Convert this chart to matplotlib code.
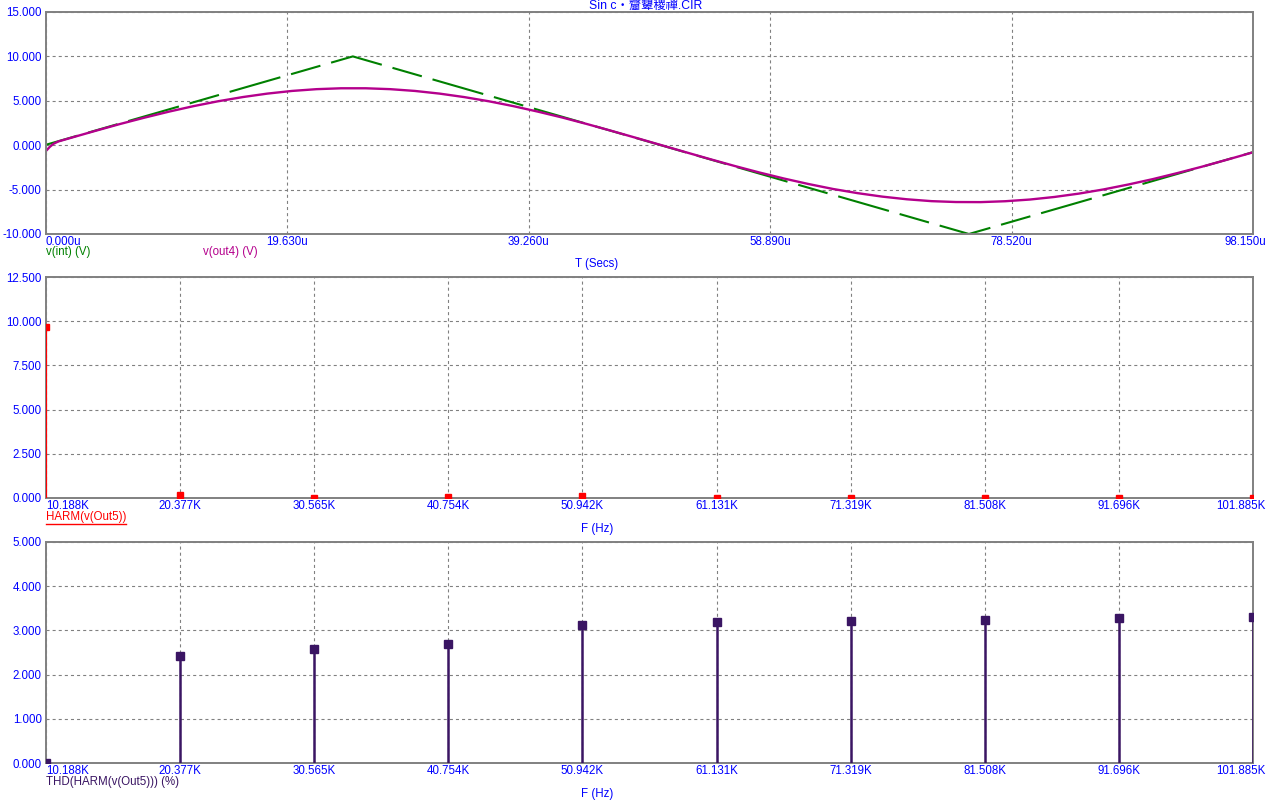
import matplotlib
matplotlib.use('Agg')
import matplotlib.pyplot as plt
from matplotlib.lines import Line2D

plt.rcParams['lines.scale_dashes'] = False
FONT = ['Liberation Sans', 'DejaVu Sans']
CJK = ['Liberation Sans', 'Noto Sans CJK JP', 'DejaVu Sans']
plt.rcParams['font.family'] = FONT

# ---------------- data ----------------
title = 'Sin c・齏顰稷禪.CIR'

# v(int): triangle wave (vertices), time in microseconds
t_int = [0.0, 24.95, 75.05, 98.15]
v_int = [0.05, 10.0, -10.0, -0.78]

# v(out4): filtered wave
t_out4 = [0.0, 0.3, 0.6, 1.0, 2, 4, 6, 8, 10, 12, 14, 16, 18, 20, 22, 24, 26, 28,
          30, 32, 34, 36, 38, 40, 42, 44, 46, 48, 50, 52, 54, 56, 58, 60, 62, 64,
          66, 68, 70, 72, 74, 76, 78, 80, 82, 84, 86, 88, 90, 92, 94, 96, 98.15]
v_out4 = [-0.65, -0.2, 0.15, 0.42, 0.82, 1.61, 2.38, 3.10, 3.78, 4.40, 4.95, 5.42,
          5.81, 6.11, 6.31, 6.41, 6.41, 6.31, 6.11, 5.81, 5.42, 4.95, 4.40, 3.78,
          3.11, 2.38, 1.61, 0.82, 0.02, -0.78, -1.57, -2.34, -3.07, -3.75, -4.37,
          -4.93, -5.40, -5.79, -6.09, -6.30, -6.40, -6.41, -6.31, -6.12, -5.83,
          -5.45, -4.98, -4.43, -3.82, -3.14, -2.42, -1.65, -0.80]

time_ticks = [0.0, 19.63, 39.26, 58.89, 78.52, 98.15]
time_labels = ['0.000u', '19.630u', '39.260u', '58.890u', '78.520u', '98.150u']

harm_freq = [10.188, 20.377, 30.565, 40.754, 50.942, 61.131, 71.319, 81.508, 91.696, 101.885]
freq_labels = ['10.188K', '20.377K', '30.565K', '40.754K', '50.942K', '61.131K',
               '71.319K', '81.508K', '91.696K', '101.885K']
harm_vals = [9.68, 0.18, 0.02, 0.03, 0.12, 0.02, 0.0, 0.02, 0.02, 0.02]
thd_vals = [0.0, 2.41, 2.57, 2.70, 3.13, 3.19, 3.21, 3.24, 3.28, 3.30]

y1_ticks = [-10, -5, 0, 5, 10, 15]
y2_ticks = [0, 2.5, 5, 7.5, 10, 12.5]
y3_ticks = [0, 1, 2, 3, 4, 5]

# ---------------- style ----------------
W, H = 1267, 806
BLUE = '#0000ff'
GREEN = '#008000'
MAGENTA = '#b4008c'
RED = '#ff0000'
PURPLE = '#3a1563'
GRAY = '#808080'
FS = 8.3

fig = plt.figure(figsize=(W / 100, H / 100), dpi=100)


def add_axes(top, bottom):
    return fig.add_axes([46 / W, 1 - bottom / H, (1253 - 46) / W, (bottom - top) / H])


def style(ax, xticks, xlim, yticks, ylim, xlabels):
    ax.set_xlim(*xlim)
    ax.set_ylim(*ylim)
    ax.set_xticks(xticks)
    ax.set_xticklabels([])
    ax.set_yticks(yticks)
    ax.set_yticklabels(['%.3f' % v for v in yticks], color=BLUE, fontsize=FS)
    ax.tick_params(length=0, pad=3)
    ax.grid(True, color=GRAY, linestyle=(0, (2.2, 2.2)), linewidth=0.8)
    ax.set_axisbelow(True)
    for s in ax.spines.values():
        s.set_color(GRAY)
        s.set_linewidth(1.4)
    for i, (xv, lab) in enumerate(zip(xticks, xlabels)):
        if i == 0:
            ax.text(xv, -0.008, lab, transform=ax.get_xaxis_transform(), ha='left',
                    va='top', color=BLUE, fontsize=FS)
        elif i == len(xticks) - 1:
            fig.text(1266 / W, ax.get_position().y0 - 0.008 * ax.get_position().height,
                     lab, ha='right', va='top', color=BLUE, fontsize=FS)
        else:
            ax.text(xv, -0.008, lab, transform=ax.get_xaxis_transform(), ha='center',
                    va='top', color=BLUE, fontsize=FS)


def ftext(x, y, s, **kw):
    kw.setdefault('fontsize', FS)
    return fig.text(x / W, 1 - y / H, s, va='center', **kw)


# ---- top panel ----
ax1 = add_axes(12, 234)
style(ax1, time_ticks, (0, 98.15), y1_ticks, (-10, 15), time_labels)
ax1.plot(t_int, v_int, color=GREEN, lw=1.5, linestyle=(14.4, (38, 8, 22, 8)))
ax1.plot(t_out4, v_out4, color=MAGENTA, lw=1.7)
ftext(646, 6, title, ha='center', color=BLUE, family=CJK, fontsize=8.8)
ftext(46, 252, 'v(int) (V)', ha='left', color=GREEN)
ftext(203, 252, 'v(out4) (V)', ha='left', color=MAGENTA)
ftext(597, 264, 'T (Secs)', ha='center', color=BLUE)

# ---- middle panel ----
ax2 = add_axes(277, 498)
style(ax2, harm_freq, (harm_freq[0], harm_freq[-1]), y2_ticks, (0, 12.5), freq_labels)
ax2.vlines(harm_freq, 0, harm_vals, color=RED, lw=1.6, zorder=3)
ax2.plot(harm_freq, harm_vals, 's', color=RED, ms=4.3, mec=RED, zorder=3)
th = ftext(46, 517, 'HARM(v(Out5))', ha='left', color=RED)
ftext(597, 529, 'F (Hz)', ha='center', color=BLUE)

# ---- bottom panel ----
ax3 = add_axes(542, 763)
style(ax3, harm_freq, (harm_freq[0], harm_freq[-1]), y3_ticks, (0, 5), freq_labels)
ax3.vlines(harm_freq, 0, thd_vals, color=PURPLE, lw=1.8, zorder=3)
ax3.plot(harm_freq, thd_vals, 's', color=PURPLE, ms=5.6, mec=PURPLE, zorder=3)
ftext(46, 782, 'THD(HARM(v(Out5))) (%)', ha='left', color=PURPLE)
ftext(597, 794, 'F (Hz)', ha='center', color=BLUE)

# underline for HARM label
fig.canvas.draw()
bb = th.get_window_extent()
fig.add_artist(Line2D([bb.x0 / W, bb.x1 / W], [(bb.y0 - 1) / H, (bb.y0 - 1) / H],
                      color=RED, lw=1.0, transform=fig.transFigure))

fig.savefig('out.png', dpi=100)
